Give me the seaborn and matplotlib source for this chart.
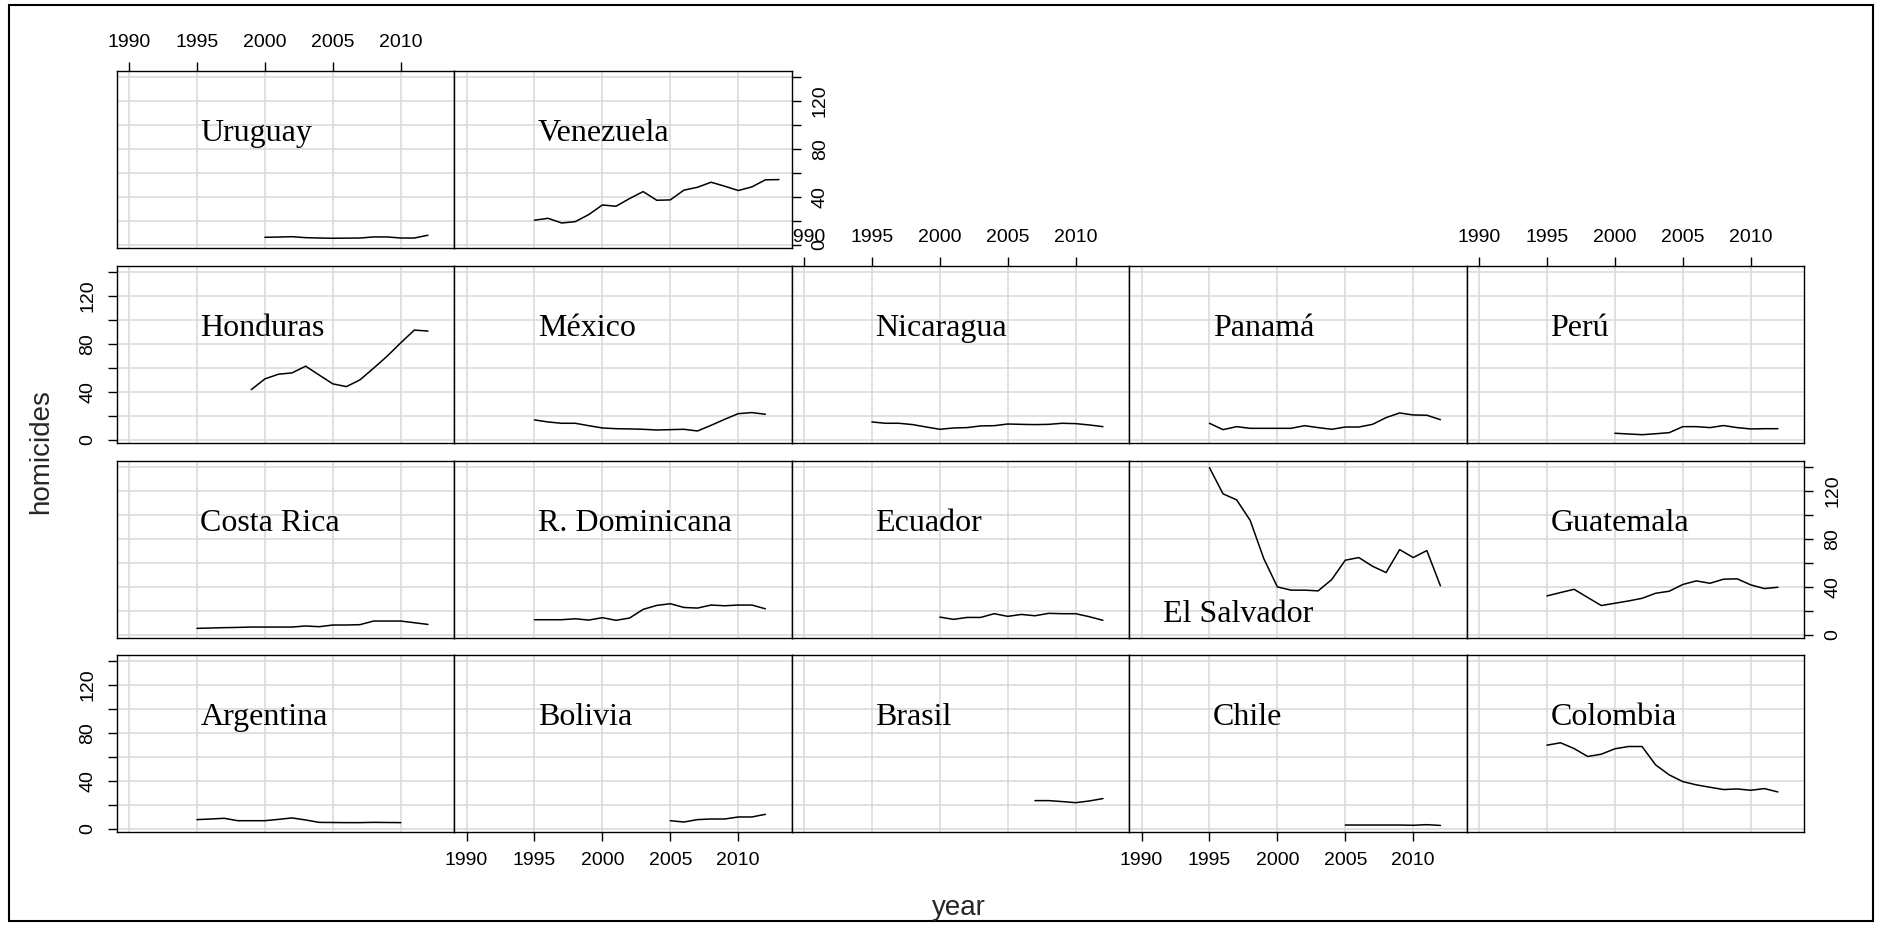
import numpy as np
import pandas as pd
import matplotlib
matplotlib.use("Agg")
import matplotlib.pyplot as plt
import seaborn as sns
from matplotlib.patches import Rectangle

# ---- data (homicides per 100k) ----
argentina_start = 1995
argentina = [7.8, 8.3, 8.9, 6.9, 6.9, 6.9, 8.0, 9.2, 7.5, 5.5, 5.4, 5.3, 5.3, 5.5, 5.4, 5.3]
bolivia_start = 2005
bolivia = [6.9, 5.8, 7.8, 8.3, 8.3, 10.0, 10.0, 12.2]
brasil_start = 2007
brasil = [23.6, 23.6, 22.8, 21.9, 23.3, 25.3]
chile_start = 2005
chile = [3.3, 3.3, 3.3, 3.3, 3.3, 3.1, 3.6, 2.95]
colombia_start = 1995
colombia = [69.7, 71.7, 66.9, 60.3, 62.2, 66.7, 68.6, 68.6, 53.3, 45.0, 39.4, 36.7, 34.7, 32.8, 33.3, 32.2, 33.6, 30.8]
costarica_start = 1995
costarica = [5.5, 5.8, 6.1, 6.3, 6.6, 6.6, 6.6, 6.6, 7.5, 6.9, 8.3, 8.3, 8.6, 11.6, 11.6, 11.6, 10.2, 8.8]
dominicana_start = 1995
dominicana = [12.7, 12.7, 12.7, 13.5, 12.4, 14.4, 12.2, 14.1, 21.3, 24.6, 26.0, 22.9, 22.4, 24.9, 24.3, 24.9, 24.9, 21.8]
ecuador_start = 2000
ecuador = [14.9, 13.0, 14.6, 14.6, 17.7, 15.5, 17.1, 16.0, 18.0, 17.7, 17.7, 15.2, 12.2]
elsalvador_start = 1995
elsalvador = [139.2, 117.4, 112.4, 95.3, 63.5, 40.0, 37.3, 37.3, 36.7, 46.1, 62.2, 64.4, 57.2, 51.9, 71.0, 64.4, 70.2, 40.9]
guatemala_start = 1995
guatemala = [32.5, 35.3, 38.0, 31.2, 24.5, 26.4, 28.3, 30.5, 34.7, 36.4, 42.0, 45.0, 43.0, 46.4, 46.7, 41.7, 38.6, 39.7]
honduras_start = 1999
honduras = [41.9, 50.8, 54.7, 55.8, 61.4, 54.0, 46.7, 44.4, 50.0, 59.7, 69.7, 80.8, 91.4, 90.6]
mexico_start = 1995
mexico = [16.7, 15.0, 13.9, 13.9, 11.9, 10.0, 9.4, 9.2, 8.9, 8.3, 8.6, 8.9, 7.5, 12.2, 17.2, 21.9, 22.8, 21.4]
nicaragua_start = 1995
nicaragua = [15.0, 13.9, 13.9, 12.8, 10.8, 8.9, 10.0, 10.3, 11.7, 11.9, 13.3, 13.0, 12.8, 13.0, 13.9, 13.6, 12.5, 11.1]
panama_start = 1995
panama = [13.9, 8.6, 11.1, 9.7, 9.7, 9.7, 9.7, 11.9, 10.3, 8.9, 10.8, 10.8, 13.0, 18.6, 22.5, 20.8, 20.6, 16.9]
peru_start = 2000
peru = [5.6, 5.0, 4.4, 5.2, 6.1, 11.1, 11.1, 10.3, 12.0, 10.3, 9.2, 9.4, 9.4]
uruguay_start = 2000
uruguay = [6.4, 6.6, 6.9, 6.1, 5.8, 5.6, 5.7, 5.8, 6.7, 6.7, 5.8, 5.8, 8.1]
venezuela_start = 1995
venezuela = [20.6, 22.2, 18.3, 19.4, 25.3, 33.3, 32.2, 38.6, 44.4, 37.2, 37.5, 45.6, 48.0, 52.2, 48.9, 45.3, 48.3, 54.2, 54.4]

countries = ["Argentina", "Bolivia", "Brasil", "Chile", "Colombia",
             "Costa Rica", "R. Dominicana", "Ecuador", "El Salvador", "Guatemala",
             "Honduras", "México", "Nicaragua", "Panamá", "Perú",
             "Uruguay", "Venezuela"]
series = [(argentina_start, argentina), (bolivia_start, bolivia), (brasil_start, brasil),
          (chile_start, chile), (colombia_start, colombia), (costarica_start, costarica),
          (dominicana_start, dominicana), (ecuador_start, ecuador),
          (elsalvador_start, elsalvador), (guatemala_start, guatemala),
          (honduras_start, honduras), (mexico_start, mexico), (nicaragua_start, nicaragua),
          (panama_start, panama), (peru_start, peru), (uruguay_start, uruguay),
          (venezuela_start, venezuela)]

x_ticks = [1990, 1995, 2000, 2005, 2010]
y_ticks = [0, 20, 40, 60, 80, 100, 120, 140]
y_ticklabels = ["0", "", "40", "", "80", "", "120", ""]

rows = []
for name, (start, vals) in zip(countries, series):
    for i, v in enumerate(vals):
        rows.append({"country": name, "year": start + i, "homicides": v})
df = pd.DataFrame(rows)

# ---- style ----
sns.set_style("ticks")
plt.rcParams["font.family"] = ["Liberation Sans", "DejaVu Sans"]

W, H = 1885, 926
fig = plt.figure(figsize=(W / 100, H / 100), dpi=100)

col_left = [116.5, 454, 791.5, 1129, 1466.5]
pw = 337.5
row_top = [655, 461, 266, 71]   # row 0 = bottom row
ph = 177

XLIM = (1989.08, 2013.92)
YLIM = (-2.5, 144.7)

label_pos = {name: (1995.25, 93) for name in countries}
label_pos["El Salvador"] = (1991.6, 17)

for idx, name in enumerate(countries):
    r, c = divmod(idx, 5)
    ax = fig.add_axes([col_left[c] / W, 1 - (row_top[r] + ph) / H, pw / W, ph / H])
    sub = df[df["country"] == name]
    sns.lineplot(data=sub, x="year", y="homicides", ax=ax, color="black",
                 linewidth=1.1, estimator=None, sort=True)
    ax.set_xlim(*XLIM)
    ax.set_ylim(*YLIM)
    ax.set_xticks(x_ticks)
    ax.set_xticklabels([str(t) for t in x_ticks])
    ax.set_yticks(y_ticks)
    ax.set_yticklabels(y_ticklabels)
    ax.set_xlabel("")
    ax.set_ylabel("")
    ax.grid(True, color="#d9d9d9", linewidth=1.1)
    ax.set_axisbelow(True)
    for sp in ax.spines.values():
        sp.set_visible(True)
        sp.set_color("black")
        sp.set_linewidth(1.0)

    ax.tick_params(axis="both", which="both", direction="out", length=6.5, width=1.0,
                   pad=8, labelsize=14, colors="black",
                   bottom=False, top=False, left=False, right=False,
                   labelbottom=False, labeltop=False, labelleft=False, labelright=False)

    # x axes alternate: top for columns 0,2,4 ; bottom for columns 1,3
    if c in (0, 2, 4):
        top_row = 3 if c == 0 else 2
        if r == top_row:
            ax.tick_params(axis="x", top=True, labeltop=True)
    else:
        if r == 0:
            ax.tick_params(axis="x", bottom=True, labelbottom=True)

    # y axes alternate: left for rows 0,2 ; right for rows 1,3
    last_col = 4 if r < 3 else 1
    if r in (0, 2) and c == 0:
        ax.tick_params(axis="y", left=True, labelleft=True, labelrotation=90)
        for t in ax.get_yticklabels():
            t.set_va("center")
    if r in (1, 3) and c == last_col:
        ax.tick_params(axis="y", right=True, labelright=True, labelrotation=90)
        for t in ax.get_yticklabels():
            t.set_va("center")

    lx, ly = label_pos[name]
    ax.text(lx, ly, name, family=["Liberation Serif", "DejaVu Serif"], fontsize=23,
            ha="left", va="center", color="black")

fig.text(959 / W, 1 - 908 / H, "year", ha="center", va="center", fontsize=20)
fig.text(41 / W, 1 - 452 / H, "homicides", ha="center", va="center", fontsize=20,
         rotation=90)

fig.patches.append(Rectangle((9 / W, 5 / H), (1873 - 9) / W, (921 - 5) / H,
                             transform=fig.transFigure, fill=False,
                             edgecolor="black", linewidth=1.5))

fig.savefig("out.png", dpi=100)
